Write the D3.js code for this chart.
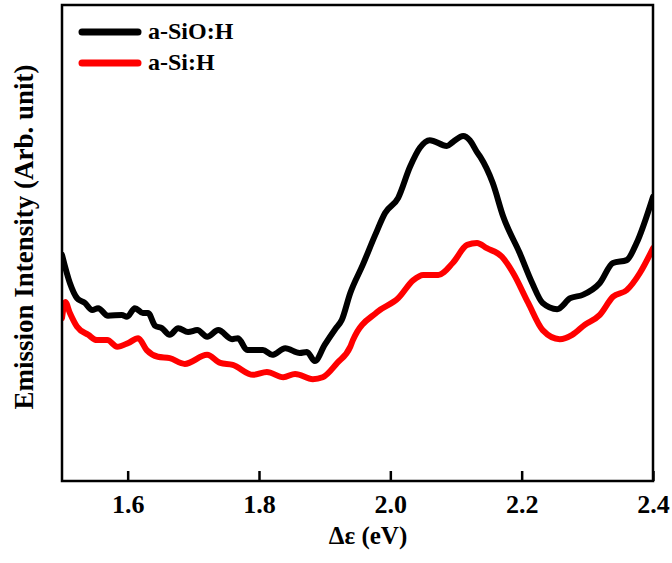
<!DOCTYPE html>
<html>
<head>
<meta charset="utf-8">
<script src="https://cdn.jsdelivr.net/npm/d3@7"></script>
<style>
  body { margin: 0; background: #fff; }
</style>
</head>
<body>
<svg id="chart" width="672" height="563"></svg>
<script>
// photon energy (eV) and emission intensity (arb. unit)
const sioEnergy = [1.500, 1.512, 1.523, 1.535, 1.546, 1.555, 1.570, 1.591, 1.599, 1.611, 1.623, 1.631,
  1.642, 1.652, 1.664, 1.677, 1.692, 1.706, 1.721, 1.738, 1.759, 1.768, 1.782, 1.806, 1.820, 1.840,
  1.862, 1.873, 1.885, 1.900, 1.916, 1.926, 1.939, 1.958, 1.977, 1.992, 2.012, 2.030, 2.045, 2.060,
  2.086, 2.095, 2.111, 2.121, 2.132, 2.137, 2.156, 2.172, 2.197, 2.216, 2.232, 2.254, 2.274, 2.293,
  2.319, 2.339, 2.360, 2.375, 2.400];
const sioIntensity = [47.5, 41.6, 38.4, 37.4, 35.9, 36.3, 34.7, 34.9, 34.5, 36.3, 35.3, 35.3,
  32.6, 32.1, 30.7, 32.1, 31.3, 31.7, 30.3, 31.7, 29.8, 30.0, 27.5, 27.5, 26.5, 27.9,
  26.9, 27.1, 25.2, 28.6, 31.9, 33.8, 39.5, 45.4, 51.7, 56.3, 59.5, 66.0, 70.0, 71.6,
  70.4, 71.2, 72.5, 71.6, 69.1, 68.1, 62.6, 55.5, 47.9, 41.6, 37.4, 36.1, 38.4, 39.1,
  41.6, 45.8, 46.4, 50.0, 59.7];

const siEnergy = [1.500, 1.505, 1.512, 1.523, 1.540, 1.553, 1.569, 1.584, 1.601, 1.616, 1.629, 1.646,
  1.664, 1.687, 1.721, 1.741, 1.760, 1.791, 1.812, 1.837, 1.855, 1.882, 1.897, 1.919, 1.939, 1.943,
  1.980, 2.012, 2.035, 2.050, 2.073, 2.095, 2.117, 2.132, 2.147, 2.170, 2.187, 2.210, 2.232, 2.258,
  2.277, 2.296, 2.319, 2.339, 2.360, 2.380, 2.400];
const siIntensity = [34.2, 37.6, 35.3, 32.4, 30.7, 29.6, 29.6, 28.2, 29.0, 30.0, 27.5, 26.1,
  25.8, 24.6, 26.5, 24.8, 24.4, 22.3, 22.9, 21.8, 22.5, 21.4, 21.8, 24.8, 28.2, 29.6,
  35.5, 38.4, 42.2, 43.3, 43.3, 45.8, 49.6, 50.0, 48.9, 47.1, 43.7, 37.4, 31.7, 29.8,
  30.7, 32.8, 34.9, 38.7, 40.1, 43.7, 48.9];

const seriesNames = ["a-SiO:H", "a-Si:H"];
const seriesColors = ["#000000", "#ff0000"];
const xTicks = [1.6, 1.8, 2.0, 2.2, 2.4];

const FONT = "'Liberation Serif', 'Times New Roman', serif";

const svg = d3.select("#chart");
const plotLeft = 62, plotRight = 653, plotTop = 5, plotBottom = 481;

const x = d3.scaleLinear().domain([1.5, 2.4]).range([plotLeft, plotRight]);
const y = d3.scaleLinear().domain([0, 100]).range([plotBottom, plotTop]);

svg.append("clipPath").attr("id", "plotClip")
  .append("rect")
  .attr("x", plotLeft).attr("y", plotTop)
  .attr("width", plotRight - plotLeft).attr("height", plotBottom - plotTop);

const series = [
  { name: seriesNames[0], color: seriesColors[0], pts: sioEnergy.map((e, i) => [e, sioIntensity[i]]) },
  { name: seriesNames[1], color: seriesColors[1], pts: siEnergy.map((e, i) => [e, siIntensity[i]]) }
];

const line = d3.line()
  .x(d => x(d[0]))
  .y(d => y(d[1]))
  .curve(d3.curveMonotoneX);

// draw red first so black sits on top
svg.append("g").attr("clip-path", "url(#plotClip)")
  .selectAll("path")
  .data(series.slice().reverse())
  .enter().append("path")
    .attr("d", d => line(d.pts))
    .attr("fill", "none")
    .attr("stroke", d => d.color)
    .attr("stroke-width", 6)
    .attr("stroke-linejoin", "round")
    .attr("stroke-linecap", "round");

// frame
svg.append("rect")
  .attr("x", plotLeft).attr("y", plotTop)
  .attr("width", plotRight - plotLeft).attr("height", plotBottom - plotTop)
  .attr("fill", "none")
  .attr("stroke", "#000")
  .attr("stroke-width", 2.5);

const xAxis = svg.append("g")
  .attr("transform", `translate(0,${plotBottom})`)
  .call(d3.axisBottom(x)
    .tickValues(xTicks)
    .tickFormat(d3.format(".1f"))
    .tickSizeInner(-10)
    .tickSizeOuter(0)
    .tickPadding(13.5));

xAxis.select(".domain").remove();
xAxis.selectAll(".tick line").attr("stroke", "#000").attr("stroke-width", 2.5);
xAxis.selectAll(".tick text")
  .attr("fill", "#000")
  .style("font-family", FONT)
  .style("font-weight", "bold")
  .style("font-size", "26px");

svg.append("text")
  .attr("x", 368).attr("y", 544)
  .attr("text-anchor", "middle")
  .style("font-family", FONT)
  .style("font-weight", "bold")
  .style("font-size", "25px")
  .text("Δε (eV)");

svg.append("text")
  .attr("transform", "translate(33,237) rotate(-90)")
  .attr("text-anchor", "middle")
  .style("font-family", FONT)
  .style("font-weight", "bold")
  .style("font-size", "27px")
  .text("Emission Intensity (Arb. unit)");

// legend
const legend = svg.append("g")
  .selectAll("g")
  .data(series)
  .enter().append("g")
    .attr("transform", (d, i) => `translate(82,${32 + i * 31})`);

legend.append("line")
  .attr("x1", 0).attr("x2", 56)
  .attr("stroke", d => d.color)
  .attr("stroke-width", 7)
  .attr("stroke-linecap", "round");

legend.append("text")
  .attr("x", 66).attr("y", 7)
  .style("font-family", FONT)
  .style("font-weight", "bold")
  .style("font-size", "24px")
  .text(d => d.name);
</script>
</body>
</html>
